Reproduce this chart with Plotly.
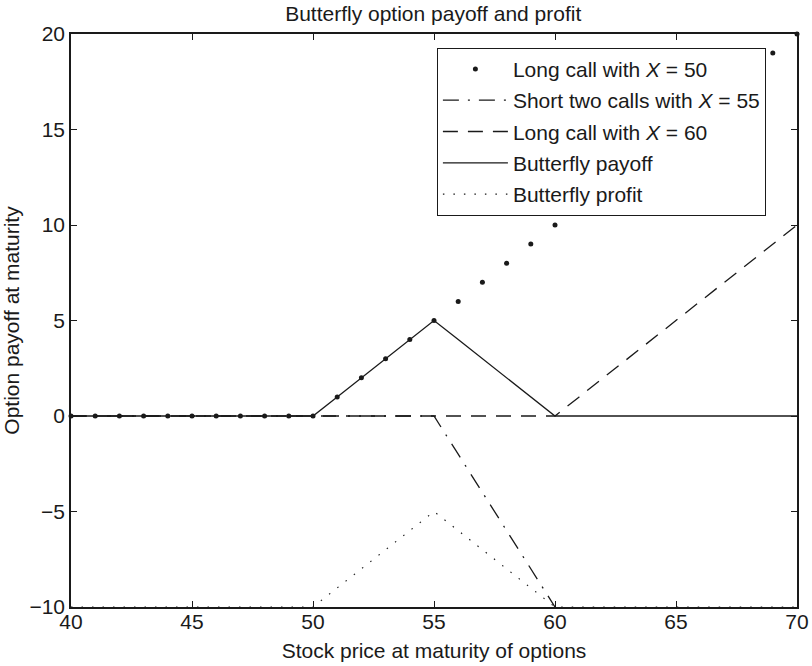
import numpy as np
import plotly.graph_objects as go

# Stock prices at maturity and strike setup
stock_price = list(range(40, 71))
strike_low = 50
strike_mid = 55
strike_high = 60
net_premium = 10

S = np.array(stock_price, dtype=float)
long_call_low = np.maximum(S - strike_low, 0)
short_two_mid = -2 * np.maximum(S - strike_mid, 0)
long_call_high = np.maximum(S - strike_high, 0)
butterfly_payoff = long_call_low + short_two_mid + long_call_high
butterfly_profit = butterfly_payoff - net_premium

x_ticks = [40, 45, 50, 55, 60, 65, 70]
y_ticks = [-10, -5, 0, 5, 10, 15, 20]

FONT = "Liberation Sans, Arial, Helvetica, sans-serif"
INK = "#1a1a1a"
FS = 21

fig = go.Figure()

fig.add_trace(go.Scatter(
    x=stock_price, y=long_call_low, mode="markers",
    marker=dict(color=INK, size=5),
    name="Long call with <i>X</i> = 50",
    legendgroup="a", cliponaxis=False,
))
fig.add_trace(go.Scatter(
    x=stock_price, y=short_two_mid, mode="lines",
    line=dict(color=INK, width=1.3, dash="16px,9px,2px,9px"),
    name="Short two calls with <i>X</i> = 55",
    legendgroup="b",
))
fig.add_trace(go.Scatter(
    x=stock_price, y=long_call_high, mode="lines",
    line=dict(color=INK, width=1.3, dash="15px,10px"),
    name="Long call with <i>X</i> = 60",
    legendgroup="c",
))
fig.add_trace(go.Scatter(
    x=stock_price, y=butterfly_payoff, mode="lines",
    line=dict(color=INK, width=1.3),
    name="Butterfly payoff",
    legendgroup="d",
))
fig.add_trace(go.Scatter(
    x=stock_price, y=butterfly_profit, mode="lines",
    line=dict(color=INK, width=1.1, dash="1.5px,9px"),
    name="Butterfly profit",
    legendgroup="e",
))

axis_common = dict(
    showline=True, linecolor=INK, linewidth=1.6, mirror="ticks",
    ticks="inside", ticklen=6, tickcolor=INK, tickwidth=1,
    showgrid=False, zeroline=False, automargin=False,
    tickfont=dict(family=FONT, size=FS, color=INK),
)

fig.update_layout(
    width=812, height=666,
    margin=dict(l=71, r=15, t=34, b=59),
    paper_bgcolor="white", plot_bgcolor="white",
    font=dict(family=FONT, size=FS, color=INK),
    title=dict(
        text="Butterfly option payoff and profit",
        x=0.5335, xanchor="center", y=0.979, yanchor="middle",
        font=dict(family=FONT, size=FS, color=INK),
    ),
    xaxis=dict(
        range=[40, 70], tickvals=x_ticks, ticklabelstandoff=-5,
        title=dict(text="Stock price at maturity of options", standoff=11,
                   font=dict(family=FONT, size=FS, color=INK)),
        **axis_common,
    ),
    yaxis=dict(
        range=[-10, 20], tickvals=y_ticks,
        ticktext=[f"\u2212{abs(v)}" if v < 0 else str(v) for v in y_ticks],
        title=dict(text="Option payoff at maturity", standoff=4,
                   font=dict(family=FONT, size=FS, color=INK)),
        **axis_common,
    ),
    legend=dict(
        x=0.504, y=0.976, xanchor="left", yanchor="top",
        bgcolor="white", bordercolor=INK, borderwidth=1,
        font=dict(family=FONT, size=FS, color=INK),
        tracegroupgap=1, itemwidth=65,
    ),
    showlegend=True,
)

fig.write_html("out.html")
